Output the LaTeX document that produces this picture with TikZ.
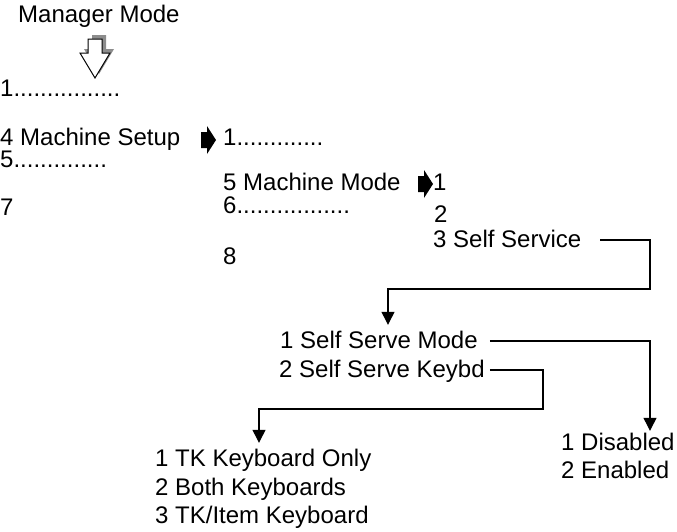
\documentclass[tikz,border=0pt]{standalone}
\usepackage{fontspec}
\setmainfont{Liberation Sans}
\usepackage{xcolor}
\usepackage{tikz}
\usetikzlibrary{arrows.meta, positioning, calc}
\definecolor{encre}{HTML}{000000}
\definecolor{ombre}{HTML}{8C8C8C}
\tikzset{
  entree/.style={anchor=base west, inner sep=0, text height=17pt, text depth=3pt,
    font=\fontsize{24}{28}\selectfont, text=encre},
  fleche/.style={-{Triangle[width=13pt, length=13pt]}, line width=1.2pt, color=encre},
  pointe/.style={fill=encre},
  creuse/.style={draw=encre, fill=white, line width=1pt, line join=miter},
  ombree/.style={fill=ombre}
}
\newcommand\pointenoire[1]{\fill[pointe] (#1) ++(0,-8) -- ++(6,0) -- ++(0,-6)
  -- ++(9,14) -- ++(-9,14) -- ++(0,-6) -- ++(-6,0) -- cycle;}

\begin{document}
\begin{tikzpicture}[x=1pt, y=-1pt]
    \useasboundingbox (0,0) rectangle (677,531);
    \node[entree] (gerant) at (18,22) {Manager Mode};
    % menu principal
    \node[entree] (m1) at (0,96) {1................};
    \node[entree] (m4) at (0,145) {4 Machine Setup};
    \node[entree] (m5) at (0,167) {5..............};
    \node[entree] (m7) at (0,215) {7};
    % sous-menu Machine Setup
    \node[entree] (s1) at (223,145) {1.............};
    \node[entree] (s5) at (223,190) {5 Machine Mode};
    \node[entree] (s6) at (223,213) {6.................};
    \node[entree] (s8) at (223,264) {8};
    % sous-menu Machine Mode
    \node[entree] (mm1) at (433,190) {1};
    \node[entree] (mm2) at (434,222) {2};
    \node[entree] (mm3) at (433,247) {3 Self Service};
    % Self Service
    \node[entree] (ssmode) at (280,348) {1 Self Serve Mode};
    \node[entree] (sskeybd) at (279,377) {2 Self Serve Keybd};
    \node[entree] (tk1) at (155,466) {1 TK Keyboard Only};
    \node[entree] (tk2) at (155,495) {2 Both Keyboards};
    \node[entree] (tk3) at (155,523) {3 TK/Item Keyboard};
    \node[entree] (dis) at (561,450) {1 Disabled};
    \node[entree] (ena) at (561,478) {2 Enabled};

    % grosse fleche creuse avec son ombre
    \fill[ombree, shift={(4,-4)}] (88,39) -- (102,39) -- (102,53) -- (110,53) -- (95,78) -- (80,53) -- (88,53) -- cycle;
    \draw[creuse] (88,39) -- (102,39) -- (102,53) -- (110,53) -- (95,78) -- (80,53) -- (88,53) -- cycle;

    \pointenoire{[xshift=-22pt,yshift=5pt]s1.base west}
    \pointenoire{[xshift=-15pt,yshift=6pt]mm1.base west}

    \coordinate (coudeA) at (650,289);
    \coordinate (coudeC) at (543,409);
    \draw[fleche] ([xshift=19pt]mm3.east) -| (coudeA) -| ([xshift=108pt,yshift=6pt]ssmode.north west);
    \draw[fleche] ([xshift=12pt]ssmode.east) -| ([xshift=89pt,yshift=2pt]dis.north west);
    \draw[fleche] ([xshift=5pt]sskeybd.east) -| (coudeC) -| ([xshift=104pt,yshift=6pt]tk1.north west);
  \end{tikzpicture}
\end{document}
